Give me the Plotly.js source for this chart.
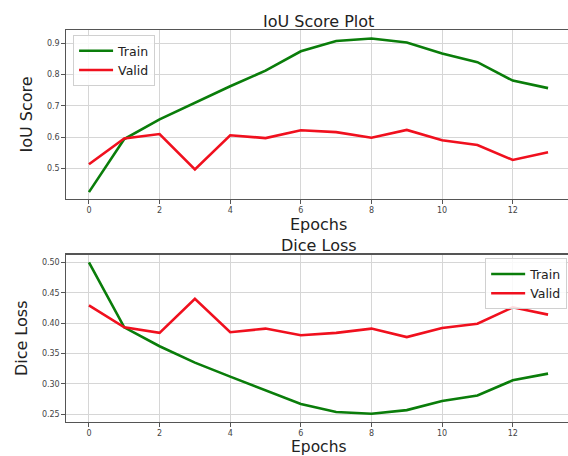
<!DOCTYPE html>
<html>
<head>
<meta charset="utf-8">
<script src="https://cdn.plot.ly/plotly-3.0.1.min.js"></script>
<style>
html,body{margin:0;padding:0;overflow:hidden;background:#fff;}
#chart{width:580px;height:456px;}
</style>
</head>
<body>
<div id="chart"></div>
<script>
const epochs = [0,1,2,3,4,5,6,7,8,9,10,11,12,13];
const iouTrain = [0.424,0.594,0.657,0.711,0.763,0.813,0.875,0.908,0.916,0.903,0.868,0.840,0.781,0.757];
const iouValid = [0.513,0.596,0.610,0.497,0.606,0.597,0.622,0.616,0.598,0.623,0.590,0.575,0.527,0.552];
const diceTrain = [0.500,0.393,0.362,0.335,0.312,0.289,0.267,0.254,0.251,0.257,0.272,0.281,0.306,0.317];
const diceValid = [0.429,0.393,0.384,0.440,0.385,0.391,0.380,0.384,0.391,0.377,0.392,0.399,0.426,0.414];
const xTicks = [0,2,4,6,8,10,12];

const green = '#0a7d0a', red = '#f0101e';
const traces = [
  {x: epochs, y: iouTrain, name: 'Train', mode: 'lines', line: {color: green, width: 2.6}, xaxis: 'x', yaxis: 'y', legend: 'legend'},
  {x: epochs, y: iouValid, name: 'Valid', mode: 'lines', line: {color: red, width: 2.6}, xaxis: 'x', yaxis: 'y', legend: 'legend'},
  {x: epochs, y: diceTrain, name: 'Train', mode: 'lines', line: {color: green, width: 2.6}, xaxis: 'x2', yaxis: 'y2', legend: 'legend2'},
  {x: epochs, y: diceValid, name: 'Valid', mode: 'lines', line: {color: red, width: 2.6}, xaxis: 'x2', yaxis: 'y2', legend: 'legend2'}
];

const fontFam = 'DejaVu Sans, sans-serif';
function xax(anchor){
  return {anchor: anchor, domain: [0,1], range: [-0.65, 13.65], tickvals: xTicks, ticktext: xTicks.map(String),
    showgrid: true, gridcolor: '#d6d6d6', gridwidth: 1, zeroline: false,
    showline: true, linecolor: '#555', linewidth: 1.2, mirror: true,
    ticks: 'outside', ticklen: 3.5, tickcolor: '#555', tickfont: {size: 8, color: '#444', family: fontFam}};
}
const legendFont = {size: 12.5, color: '#222', family: fontFam};
const titleFont = {size: 16, color: '#222', family: fontFam};
function label(text, y, size){
  return {text: text, xref: 'paper', yref: 'paper', x: 0.5, y: y, xanchor: 'center', yanchor: 'middle', showarrow: false,
    font: {size: size, color: '#222', family: fontFam}};
}
const layout = {
  width: 580, height: 456,
  margin: {l: 66, r: 9, t: 0, b: 0},
  paper_bgcolor: '#fff', plot_bgcolor: '#fff',
  font: {family: fontFam},
  xaxis: xax('y'),
  xaxis2: xax('y2'),
  yaxis: {anchor: 'x', domain: [0.5636, 0.9342], range: [0.402, 0.943], dtick: 0.1, tick0: 0.5, tickformat: '.1f',
    showgrid: true, gridcolor: '#d6d6d6', zeroline: false, showline: true, linecolor: '#555', linewidth: 1.2, mirror: true,
    ticks: 'outside', ticklen: 3.5, tickcolor: '#555', tickfont: {size: 8, color: '#444', family: fontFam},
    title: {text: 'IoU Score', font: titleFont, standoff: 10}},
  yaxis2: {anchor: 'x2', domain: [0.0746, 0.4415], range: [0.2375, 0.5125], dtick: 0.05, tick0: 0.25, tickformat: '.2f',
    showgrid: true, gridcolor: '#d6d6d6', zeroline: false, showline: true, linecolor: '#555', linewidth: 1.2, mirror: true,
    ticks: 'outside', ticklen: 3.5, tickcolor: '#555', tickfont: {size: 8, color: '#444', family: fontFam},
    title: {text: 'Dice Loss', font: titleFont, standoff: 10}},
  legend: {x: 0.014, y: 0.923, xanchor: 'left', yanchor: 'top', bgcolor: 'rgba(255,255,255,0.85)', bordercolor: '#d0d0d0', borderwidth: 1,
    font: legendFont, tracegroupgap: 0, itemwidth: 34},
  legend2: {x: 0.83, y: 0.4335, xanchor: 'left', yanchor: 'top', bgcolor: 'rgba(255,255,255,0.85)', bordercolor: '#d0d0d0', borderwidth: 1,
    font: legendFont, tracegroupgap: 0, itemwidth: 34},
  annotations: [
    label('IoU Score Plot', 0.9524, 16),
    label('Epochs', (456 - 224) / 456, 16),
    label('Dice Loss', 0.461, 16),
    label('Epochs', (456 - 447) / 456, 15.5)
  ]
};
Plotly.newPlot('chart', traces, layout, {displayModeBar: false, staticPlot: true});
</script>
</body>
</html>
